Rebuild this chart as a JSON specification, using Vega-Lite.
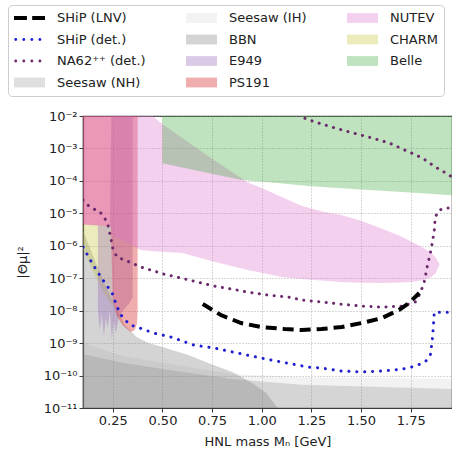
{
  "$schema": "https://vega.github.io/schema/vega-lite/v6.json",
  "width": 369,
  "height": 292,
  "autosize": {"type": "none"},
  "padding": {"left": 83, "top": 116, "right": 0, "bottom": 45},
  "background": "white",
  "config": {
    "font": "DejaVu Sans",
    "view": {"stroke": "#3a3a3a", "strokeWidth": 1.2},
    "axis": {
      "labelFont": "DejaVu Sans",
      "titleFont": "DejaVu Sans",
      "labelFontSize": 13,
      "titleFontSize": 13,
      "titleFontWeight": "normal",
      "labelColor": "#222222",
      "titleColor": "#222222",
      "domainColor": "#3a3a3a",
      "domainWidth": 1.2,
      "tickColor": "#3a3a3a",
      "tickSize": 4,
      "labelPadding": 2,
      "grid": true,
      "gridColor": "#9a9a9a",
      "gridDash": [1, 2],
      "gridWidth": 0.8,
      "zindex": 1
    },
    "legend": {
      "orient": "none",
      "legendX": -75,
      "legendY": -111,
      "columns": 3,
      "padding": 6,
      "rowPadding": 7.5,
      "columnPadding": 40,
      "symbolSize": 196,
      "symbolStrokeWidth": 0,
      "symbolOpacity": 1,
      "labelOffset": 29,
      "labelFont": "DejaVu Sans",
      "labelFontSize": 13,
      "labelColor": "#222222",
      "labelLimit": 300,
      "fillColor": "rgba(255,255,255,0.85)",
      "strokeColor": "#cccccc",
      "cornerRadius": 4
    }
  },
  "datasets": {
    "regions": [
      {"name": "Seesaw (NH)", "m": 0.1, "v": 1e-12, "v2": 4.5e-10},
      {"name": "Seesaw (NH)", "m": 0.3, "v": 1e-12, "v2": 2.5e-10},
      {"name": "Seesaw (NH)", "m": 0.5, "v": 1e-12, "v2": 1.6e-10},
      {"name": "Seesaw (NH)", "m": 0.85, "v": 1e-12, "v2": 7.9e-11},
      {"name": "Seesaw (NH)", "m": 1.2, "v": 1e-12, "v2": 5.2e-11},
      {"name": "Seesaw (NH)", "m": 1.6, "v": 1e-12, "v2": 4.4e-11},
      {"name": "Seesaw (NH)", "m": 2.0, "v": 1e-12, "v2": 3.8e-11},

      {"name": "Seesaw (IH)", "m": 0.1, "v": 1e-12, "v2": 1.0e-9},
      {"name": "Seesaw (IH)", "m": 0.3, "v": 1e-12, "v2": 4.0e-10},
      {"name": "Seesaw (IH)", "m": 0.5, "v": 1e-12, "v2": 2.5e-10},
      {"name": "Seesaw (IH)", "m": 0.85, "v": 1e-12, "v2": 1.12e-10},
      {"name": "Seesaw (IH)", "m": 1.2, "v": 1e-12, "v2": 8.9e-11},
      {"name": "Seesaw (IH)", "m": 1.6, "v": 1e-12, "v2": 8.3e-11},
      {"name": "Seesaw (IH)", "m": 2.0, "v": 1e-12, "v2": 7.9e-11},

      {"name": "BBN", "m": 0.1, "v": 1e-12, "v2": 3.0e-6},
      {"name": "BBN", "m": 0.13, "v": 1e-12, "v2": 1.0e-6},
      {"name": "BBN", "m": 0.17, "v": 1e-12, "v2": 2.5e-7},
      {"name": "BBN", "m": 0.21, "v": 1e-12, "v2": 6.3e-8},
      {"name": "BBN", "m": 0.25, "v": 1e-12, "v2": 2.1e-8},
      {"name": "BBN", "m": 0.31, "v": 1e-12, "v2": 3.6e-9},
      {"name": "BBN", "m": 0.37, "v": 1e-12, "v2": 1.55e-9},
      {"name": "BBN", "m": 0.43, "v": 1e-12, "v2": 1.0e-9},
      {"name": "BBN", "m": 0.5, "v": 1e-12, "v2": 7.6e-10},
      {"name": "BBN", "m": 0.63, "v": 1e-12, "v2": 4.3e-10},
      {"name": "BBN", "m": 0.75, "v": 1e-12, "v2": 2.2e-10},
      {"name": "BBN", "m": 0.85, "v": 1e-12, "v2": 1.3e-10},
      {"name": "BBN", "m": 0.95, "v": 1e-12, "v2": 6.0e-11},
      {"name": "BBN", "m": 1.02, "v": 1e-12, "v2": 3.0e-11},
      {"name": "BBN", "m": 1.08, "v": 1e-12, "v2": 1.0e-11},
      {"name": "BBN", "m": 1.12, "v": 1e-12, "v2": 5.0e-12},

      {"name": "CHARM", "m": 0.1, "v": 7.9e-7, "v2": 4.5e-6},
      {"name": "CHARM", "m": 0.15, "v": 1.6e-7, "v2": 4.4e-6},
      {"name": "CHARM", "m": 0.2, "v": 4.0e-8, "v2": 4.2e-6},
      {"name": "CHARM", "m": 0.24, "v": 1.6e-8, "v2": 4.0e-6},
      {"name": "CHARM", "m": 0.25, "v": 1.26e-8, "v2": 2.0e-8},

      {"name": "E949", "m": 0.175, "v": 1.0e-8, "v2": 4.2e-6},
      {"name": "E949", "m": 0.185, "v": 2.5e-9, "v2": 4.2e-6},
      {"name": "E949", "m": 0.195, "v": 8.0e-9, "v2": 4.2e-6},
      {"name": "E949", "m": 0.205, "v": 1.6e-9, "v2": 4.1e-6},
      {"name": "E949", "m": 0.215, "v": 6.0e-9, "v2": 4.1e-6},
      {"name": "E949", "m": 0.225, "v": 3.0e-9, "v2": 4.0e-6},
      {"name": "E949", "m": 0.235, "v": 1.0e-8, "v2": 4.0e-6},
      {"name": "E949", "m": 0.245, "v": 1.3e-9, "v2": 0.1},
      {"name": "E949", "m": 0.255, "v": 5.0e-9, "v2": 0.1},
      {"name": "E949", "m": 0.265, "v": 2.0e-9, "v2": 0.1},
      {"name": "E949", "m": 0.28, "v": 6.0e-9, "v2": 0.1},
      {"name": "E949", "m": 0.3, "v": 1.0e-8, "v2": 0.1},
      {"name": "E949", "m": 0.33, "v": 1.6e-8, "v2": 0.1},
      {"name": "E949", "m": 0.35, "v": 2.5e-8, "v2": 0.1},

      {"name": "PS191", "m": 0.1, "v": 4.5e-6, "v2": 0.1},
      {"name": "PS191", "m": 0.24, "v": 4.0e-6, "v2": 0.1},
      {"name": "PS191", "m": 0.25, "v": 2.0e-8, "v2": 0.1},
      {"name": "PS191", "m": 0.27, "v": 7.0e-9, "v2": 0.1},
      {"name": "PS191", "m": 0.3, "v": 3.5e-9, "v2": 0.1},
      {"name": "PS191", "m": 0.34, "v": 2.2e-9, "v2": 0.1},
      {"name": "PS191", "m": 0.36, "v": 2.5e-9, "v2": 0.1},
      {"name": "PS191", "m": 0.372, "v": 4.0e-9, "v2": 0.1},
      {"name": "PS191", "m": 0.375, "v": 1.0e-8, "v2": 0.1},

      {"name": "NUTEV", "m": 0.1, "v": 4.5e-6, "v2": 0.1},
      {"name": "NUTEV", "m": 0.24, "v": 4.0e-6, "v2": 0.1},
      {"name": "NUTEV", "m": 0.25, "v": 2.0e-6, "v2": 0.1},
      {"name": "NUTEV", "m": 0.3, "v": 1.5e-6, "v2": 0.1},
      {"name": "NUTEV", "m": 0.39, "v": 7.4e-7, "v2": 0.1},
      {"name": "NUTEV", "m": 0.43, "v": 7.0e-7, "v2": 0.1},
      {"name": "NUTEV", "m": 0.45, "v": 6.8e-7, "v2": 1.0e-2},
      {"name": "NUTEV", "m": 0.5, "v": 6.6e-7, "v2": 5.6e-3},
      {"name": "NUTEV", "m": 0.6, "v": 6.0e-7, "v2": 2.1e-3},
      {"name": "NUTEV", "m": 0.76, "v": 3.2e-7, "v2": 4.3e-4},
      {"name": "NUTEV", "m": 0.93, "v": 1.8e-7, "v2": 8.9e-5},
      {"name": "NUTEV", "m": 1.0, "v": 1.48e-7, "v2": 6.0e-5},
      {"name": "NUTEV", "m": 1.1, "v": 1.1e-7, "v2": 3.2e-5},
      {"name": "NUTEV", "m": 1.2, "v": 9.5e-8, "v2": 1.7e-5},
      {"name": "NUTEV", "m": 1.3, "v": 8.5e-8, "v2": 1.15e-5},
      {"name": "NUTEV", "m": 1.4, "v": 7.6e-8, "v2": 8.9e-6},
      {"name": "NUTEV", "m": 1.5, "v": 7.2e-8, "v2": 5.9e-6},
      {"name": "NUTEV", "m": 1.6, "v": 7.1e-8, "v2": 3.5e-6},
      {"name": "NUTEV", "m": 1.7, "v": 7.4e-8, "v2": 1.95e-6},
      {"name": "NUTEV", "m": 1.75, "v": 7.6e-8, "v2": 1.38e-6},
      {"name": "NUTEV", "m": 1.81, "v": 8.7e-8, "v2": 8.9e-7},
      {"name": "NUTEV", "m": 1.85, "v": 1.05e-7, "v2": 6.3e-7},
      {"name": "NUTEV", "m": 1.875, "v": 1.4e-7, "v2": 4.4e-7},
      {"name": "NUTEV", "m": 1.895, "v": 2.6e-7, "v2": 2.7e-7},

      {"name": "Belle", "m": 0.5, "v": 3.5e-4, "v2": 0.1},
      {"name": "Belle", "m": 0.7, "v": 1.9e-4, "v2": 0.1},
      {"name": "Belle", "m": 0.9, "v": 1.07e-4, "v2": 0.1},
      {"name": "Belle", "m": 1.05, "v": 8.9e-5, "v2": 0.1},
      {"name": "Belle", "m": 1.25, "v": 6.8e-5, "v2": 0.1},
      {"name": "Belle", "m": 1.5, "v": 5.4e-5, "v2": 0.1},
      {"name": "Belle", "m": 1.75, "v": 4.4e-5, "v2": 0.1},
      {"name": "Belle", "m": 2.0, "v": 3.5e-5, "v2": 0.1}
    ],
    "curves": [
      {"name": "SHiP (LNV)", "m": 0.703, "v": 1.6e-8, "ord": 0},
      {"name": "SHiP (LNV)", "m": 0.794, "v": 7.35e-9, "ord": 1},
      {"name": "SHiP (LNV)", "m": 0.896, "v": 4.16e-9, "ord": 2},
      {"name": "SHiP (LNV)", "m": 0.997, "v": 3.13e-9, "ord": 3},
      {"name": "SHiP (LNV)", "m": 1.114, "v": 2.72e-9, "ord": 4},
      {"name": "SHiP (LNV)", "m": 1.2, "v": 2.53e-9, "ord": 5},
      {"name": "SHiP (LNV)", "m": 1.301, "v": 2.72e-9, "ord": 6},
      {"name": "SHiP (LNV)", "m": 1.403, "v": 3.13e-9, "ord": 7},
      {"name": "SHiP (LNV)", "m": 1.504, "v": 4.16e-9, "ord": 8},
      {"name": "SHiP (LNV)", "m": 1.605, "v": 5.93e-9, "ord": 9},
      {"name": "SHiP (LNV)", "m": 1.691, "v": 1.05e-8, "ord": 10},
      {"name": "SHiP (LNV)", "m": 1.742, "v": 1.72e-8, "ord": 11},
      {"name": "SHiP (LNV)", "m": 1.793, "v": 3.5e-8, "ord": 12},

      {"name": "SHiP (det.)", "m": 0.1, "v": 9.1e-7, "ord": 0},
      {"name": "SHiP (det.)", "m": 0.151, "v": 2.57e-7, "ord": 1},
      {"name": "SHiP (det.)", "m": 0.201, "v": 8.7e-8, "ord": 2},
      {"name": "SHiP (det.)", "m": 0.247, "v": 3.47e-8, "ord": 3},
      {"name": "SHiP (det.)", "m": 0.272, "v": 1.29e-8, "ord": 4},
      {"name": "SHiP (det.)", "m": 0.298, "v": 6.3e-9, "ord": 5},
      {"name": "SHiP (det.)", "m": 0.338, "v": 3.63e-9, "ord": 6},
      {"name": "SHiP (det.)", "m": 0.389, "v": 2.88e-9, "ord": 7},
      {"name": "SHiP (det.)", "m": 0.455, "v": 2.04e-9, "ord": 8},
      {"name": "SHiP (det.)", "m": 0.541, "v": 1.55e-9, "ord": 9},
      {"name": "SHiP (det.)", "m": 0.658, "v": 8.7e-10, "ord": 10},
      {"name": "SHiP (det.)", "m": 0.759, "v": 7.1e-10, "ord": 11},
      {"name": "SHiP (det.)", "m": 0.881, "v": 4.9e-10, "ord": 12},
      {"name": "SHiP (det.)", "m": 0.997, "v": 3.47e-10, "ord": 13},
      {"name": "SHiP (det.)", "m": 1.098, "v": 2.63e-10, "ord": 14},
      {"name": "SHiP (det.)", "m": 1.235, "v": 1.82e-10, "ord": 15},
      {"name": "SHiP (det.)", "m": 1.301, "v": 1.7e-10, "ord": 16},
      {"name": "SHiP (det.)", "m": 1.403, "v": 1.38e-10, "ord": 17},
      {"name": "SHiP (det.)", "m": 1.504, "v": 1.29e-10, "ord": 18},
      {"name": "SHiP (det.)", "m": 1.605, "v": 1.38e-10, "ord": 19},
      {"name": "SHiP (det.)", "m": 1.707, "v": 1.58e-10, "ord": 20},
      {"name": "SHiP (det.)", "m": 1.773, "v": 1.95e-10, "ord": 21},
      {"name": "SHiP (det.)", "m": 1.823, "v": 2.63e-10, "ord": 22},
      {"name": "SHiP (det.)", "m": 1.849, "v": 4.27e-10, "ord": 23},
      {"name": "SHiP (det.)", "m": 1.859, "v": 1.26e-9, "ord": 24},
      {"name": "SHiP (det.)", "m": 1.864, "v": 3.16e-9, "ord": 25},
      {"name": "SHiP (det.)", "m": 1.869, "v": 9.0e-9, "ord": 26},
      {"name": "SHiP (det.)", "m": 1.909, "v": 9.0e-9, "ord": 27},
      {"name": "SHiP (det.)", "m": 1.97, "v": 9.0e-9, "ord": 28},

      {"name": "NA62⁺⁺ (det.)", "m": 0.1, "v": 2.57e-5, "ord": 0},
      {"name": "NA62⁺⁺ (det.)", "m": 0.135, "v": 1.55e-5, "ord": 1},
      {"name": "NA62⁺⁺ (det.)", "m": 0.186, "v": 1.1e-5, "ord": 2},
      {"name": "NA62⁺⁺ (det.)", "m": 0.222, "v": 5.4e-6, "ord": 3},
      {"name": "NA62⁺⁺ (det.)", "m": 0.237, "v": 2.14e-6, "ord": 4},
      {"name": "NA62⁺⁺ (det.)", "m": 0.252, "v": 7.4e-7, "ord": 5},
      {"name": "NA62⁺⁺ (det.)", "m": 0.272, "v": 4.47e-7, "ord": 6},
      {"name": "NA62⁺⁺ (det.)", "m": 0.323, "v": 3.39e-7, "ord": 7},
      {"name": "NA62⁺⁺ (det.)", "m": 0.389, "v": 2.24e-7, "ord": 8},
      {"name": "NA62⁺⁺ (det.)", "m": 0.505, "v": 1.35e-7, "ord": 9},
      {"name": "NA62⁺⁺ (det.)", "m": 0.592, "v": 1.02e-7, "ord": 10},
      {"name": "NA62⁺⁺ (det.)", "m": 0.678, "v": 7.6e-8, "ord": 11},
      {"name": "NA62⁺⁺ (det.)", "m": 0.759, "v": 5.75e-8, "ord": 12},
      {"name": "NA62⁺⁺ (det.)", "m": 0.845, "v": 4.68e-8, "ord": 13},
      {"name": "NA62⁺⁺ (det.)", "m": 0.931, "v": 3.72e-8, "ord": 14},
      {"name": "NA62⁺⁺ (det.)", "m": 1.033, "v": 3.02e-8, "ord": 15},
      {"name": "NA62⁺⁺ (det.)", "m": 1.134, "v": 2.63e-8, "ord": 16},
      {"name": "NA62⁺⁺ (det.)", "m": 1.2, "v": 2.14e-8, "ord": 17},
      {"name": "NA62⁺⁺ (det.)", "m": 1.301, "v": 1.86e-8, "ord": 18},
      {"name": "NA62⁺⁺ (det.)", "m": 1.403, "v": 1.58e-8, "ord": 19},
      {"name": "NA62⁺⁺ (det.)", "m": 1.504, "v": 1.38e-8, "ord": 20},
      {"name": "NA62⁺⁺ (det.)", "m": 1.605, "v": 1.29e-8, "ord": 21},
      {"name": "NA62⁺⁺ (det.)", "m": 1.707, "v": 1.38e-8, "ord": 22},
      {"name": "NA62⁺⁺ (det.)", "m": 1.773, "v": 1.86e-8, "ord": 23},
      {"name": "NA62⁺⁺ (det.)", "m": 1.798, "v": 3.47e-8, "ord": 24},
      {"name": "NA62⁺⁺ (det.)", "m": 1.818, "v": 7.6e-8, "ord": 25},
      {"name": "NA62⁺⁺ (det.)", "m": 1.833, "v": 2.24e-7, "ord": 26},
      {"name": "NA62⁺⁺ (det.)", "m": 1.849, "v": 6.0e-7, "ord": 27},
      {"name": "NA62⁺⁺ (det.)", "m": 1.859, "v": 1.23e-6, "ord": 28},
      {"name": "NA62⁺⁺ (det.)", "m": 1.869, "v": 3.09e-6, "ord": 29},
      {"name": "NA62⁺⁺ (det.)", "m": 1.874, "v": 7.8e-6, "ord": 30},
      {"name": "NA62⁺⁺ (det.)", "m": 1.894, "v": 1.26e-5, "ord": 31},
      {"name": "NA62⁺⁺ (det.)", "m": 1.925, "v": 1.45e-5, "ord": 32},
      {"name": "NA62⁺⁺ (det.)", "m": 1.97, "v": 1.45e-5, "ord": 33},
      {"name": "NA62⁺⁺ (det.)", "m": 2.02, "v": 1.45e-5, "ord": 34},
      {"name": "NA62⁺⁺ (det.)", "m": 2.02, "v": 1.07e-4, "ord": 35},
      {"name": "NA62⁺⁺ (det.)", "m": 1.97, "v": 1.07e-4, "ord": 36},
      {"name": "NA62⁺⁺ (det.)", "m": 1.945, "v": 1.51e-4, "ord": 37},
      {"name": "NA62⁺⁺ (det.)", "m": 1.874, "v": 2.69e-4, "ord": 38},
      {"name": "NA62⁺⁺ (det.)", "m": 1.808, "v": 5.1e-4, "ord": 39},
      {"name": "NA62⁺⁺ (det.)", "m": 1.742, "v": 7.8e-4, "ord": 40},
      {"name": "NA62⁺⁺ (det.)", "m": 1.641, "v": 1.48e-3, "ord": 41},
      {"name": "NA62⁺⁺ (det.)", "m": 1.539, "v": 2.24e-3, "ord": 42},
      {"name": "NA62⁺⁺ (det.)", "m": 1.438, "v": 3.24e-3, "ord": 43},
      {"name": "NA62⁺⁺ (det.)", "m": 1.352, "v": 4.57e-3, "ord": 44},
      {"name": "NA62⁺⁺ (det.)", "m": 1.266, "v": 6.6e-3, "ord": 45},
      {"name": "NA62⁺⁺ (det.)", "m": 1.2, "v": 9.3e-3, "ord": 46},
      {"name": "NA62⁺⁺ (det.)", "m": 1.15, "v": 1.4e-2, "ord": 47}
    ]
  },
  "encoding": {
    "x": {
      "field": "m",
      "type": "quantitative",
      "scale": {"domain": [0.1, 1.958], "nice": false, "zero": false},
      "axis": {
        "values": [0.25, 0.5, 0.75, 1.0, 1.25, 1.5, 1.75],
        "format": ".2f",
        "title": "HNL mass Mₙ [GeV]",
        "titlePadding": 8
      }
    },
    "y": {
      "field": "v",
      "type": "quantitative",
      "scale": {"type": "log", "domain": [1e-11, 1e-2], "nice": false},
      "axis": {
        "values": [1e-11, 1e-10, 1e-9, 1e-8, 1e-7, 1e-6, 1e-5, 1e-4, 1e-3, 1e-2],
        "labelExpr": "['10⁻²','10⁻³','10⁻⁴','10⁻⁵','10⁻⁶','10⁻⁷','10⁻⁸','10⁻⁹','10⁻¹⁰','10⁻¹¹'][round(-log(datum.value)/LN10) - 2]",
        "title": "|Θμ|²",
        "titlePadding": 14
      }
    },
    "color": {
      "field": "name",
      "type": "nominal",
      "scale": {
        "domain": ["SHiP (LNV)", "SHiP (det.)", "NA62⁺⁺ (det.)", "Seesaw (NH)", "Seesaw (IH)", "BBN", "E949", "PS191", "NUTEV", "CHARM", "Belle"],
        "range": ["#000000", "#1f1fcf", "#6b2a6b", "rgba(128,128,128,0.25)", "rgba(128,128,128,0.1)", "rgba(128,128,128,0.34)", "rgba(148,103,189,0.35)", "rgba(214,39,40,0.38)", "rgba(220,110,205,0.32)", "rgba(188,189,34,0.3)", "rgba(44,160,44,0.3)"]
      },
      "legend": {"title": null}
    }
  },
  "layer": [
    {
      "data": {"name": "regions"},
      "transform": [{"filter": "false"}],
      "mark": {"type": "point", "filled": true, "opacity": 1},
      "encoding": {
        "shape": {
          "field": "name",
          "type": "nominal",
          "scale": {
            "domain": ["SHiP (LNV)", "SHiP (det.)", "NA62⁺⁺ (det.)", "Seesaw (NH)", "Seesaw (IH)", "BBN", "E949", "PS191", "NUTEV", "CHARM", "Belle"],
            "range": [
              "M-1,-0.29H0.85V0.29H-1Z M1.6,-0.29H3.43V0.29H1.6Z",
              "M-0.96,0a0.21,0.21 0 1,0 0.42,0a0.21,0.21 0 1,0 -0.42,0Z M0.19,0a0.21,0.21 0 1,0 0.42,0a0.21,0.21 0 1,0 -0.42,0Z M1.34,0a0.21,0.21 0 1,0 0.42,0a0.21,0.21 0 1,0 -0.42,0Z M2.49,0a0.21,0.21 0 1,0 0.42,0a0.21,0.21 0 1,0 -0.42,0Z",
              "M-0.96,0a0.21,0.21 0 1,0 0.42,0a0.21,0.21 0 1,0 -0.42,0Z M0.19,0a0.21,0.21 0 1,0 0.42,0a0.21,0.21 0 1,0 -0.42,0Z M1.34,0a0.21,0.21 0 1,0 0.42,0a0.21,0.21 0 1,0 -0.42,0Z M2.49,0a0.21,0.21 0 1,0 0.42,0a0.21,0.21 0 1,0 -0.42,0Z",
              "M-1,-0.7H3.43V0.7H-1Z",
              "M-1,-0.7H3.43V0.7H-1Z",
              "M-1,-0.7H3.43V0.7H-1Z",
              "M-1,-0.7H3.43V0.7H-1Z",
              "M-1,-0.7H3.43V0.7H-1Z",
              "M-1,-0.7H3.43V0.7H-1Z",
              "M-1,-0.7H3.43V0.7H-1Z",
              "M-1,-0.7H3.43V0.7H-1Z"
            ]
          },
          "legend": {"title": null}
        }
      }
    },
    {
      "data": {"name": "regions"},
      "mark": {"type": "area", "clip": true},
      "encoding": {"y2": {"field": "v2"}}
    },
    {
      "data": {"name": "curves"},
      "transform": [{"filter": "datum.name === 'NA62⁺⁺ (det.)'"}],
      "mark": {"type": "line", "clip": true, "strokeWidth": 3, "strokeDash": [0.1, 7.4], "strokeCap": "round"},
      "encoding": {"order": {"field": "ord", "type": "quantitative"}}
    },
    {
      "data": {"name": "curves"},
      "transform": [{"filter": "datum.name === 'SHiP (det.)'"}],
      "mark": {"type": "line", "clip": true, "strokeWidth": 3, "strokeDash": [0.1, 7.8], "strokeCap": "round"},
      "encoding": {"order": {"field": "ord", "type": "quantitative"}}
    },
    {
      "data": {"name": "curves"},
      "transform": [{"filter": "datum.name === 'SHiP (LNV)'"}],
      "mark": {"type": "line", "clip": true, "strokeWidth": 4, "strokeDash": [11, 6], "strokeCap": "butt"},
      "encoding": {"order": {"field": "ord", "type": "quantitative"}}
    }
  ]
}
